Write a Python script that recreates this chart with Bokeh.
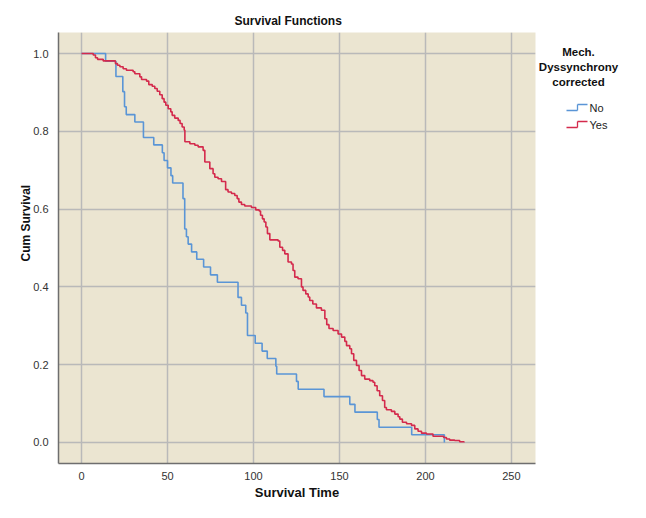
from bokeh.plotting import figure
from bokeh.layouts import row
from bokeh.models import Range1d, FixedTicker, Label, Arrow, Title
from bokeh.embed import file_html
from bokeh.resources import INLINE

# ---------------- data ----------------
no_time = [0, 14, 20, 24, 25, 26, 31, 36, 42, 47, 48, 50, 52, 53, 59, 60, 61, 62,
           64, 67, 71, 75, 79, 91, 93, 95.5, 96.5, 101, 105, 108, 113, 113.5, 125,
           126, 141, 156, 159, 172, 173, 192, 211]
no_surv = [1.0, 0.980, 0.941, 0.902, 0.863, 0.843, 0.824, 0.784, 0.765, 0.745,
           0.725, 0.706, 0.686, 0.667, 0.627, 0.549, 0.529, 0.510, 0.490, 0.471,
           0.451, 0.431, 0.412, 0.373, 0.353, 0.333, 0.275, 0.255, 0.235, 0.216,
           0.196, 0.176, 0.157, 0.137, 0.118, 0.098, 0.078, 0.059, 0.039, 0.020, 0.0]

yes_time = [0, 6.8, 8.1, 9.3, 12.6, 19.7, 20.9, 22.3, 24.2, 26.1, 30.0, 31.0, 33.9,
            34.9, 37.8, 39.1, 41.1, 42.6, 44.0, 45.5, 46.9, 48.0, 49.0, 50.4, 51.9,
            52.7, 54.2, 56.2, 57.3, 58.5, 59.7, 60.1, 63.0, 65.9, 67.8, 70.7, 71.7,
            74.6, 76.5, 77.5, 79.4, 81.4, 83.8, 85.2, 87.2, 89.1, 90.5, 91.5, 93.0,
            94.9, 98.8, 101.3, 103.3, 104.1, 105.2, 106.2, 107.2, 108.1, 109.5,
            114.3, 115.3, 116.9, 118.2, 120.1, 122.1, 123.0, 124.0, 125.9, 127.9,
            128.8, 130.4, 131.8, 132.7, 134.5, 136.6, 139.5, 141.5, 142.6, 143.9,
            146.3, 149.2, 151.2, 153.1, 154.1, 156.0, 157.0, 158.3, 159.9, 161.4,
            162.8, 164.7, 167.6, 169.5, 170.5, 171.9, 173.4, 175.0, 176.3, 177.3,
            180.2, 182.2, 184.1, 185.1, 186.6, 189.0, 191.9, 193.8, 195.7, 197.7,
            200.6, 204.4, 210.6, 212.2, 214.1, 217.0, 219.9, 222.4]
yes_surv = [1.0, 0.996, 0.989, 0.985, 0.981, 0.974, 0.970, 0.966, 0.961, 0.957,
            0.953, 0.948, 0.940, 0.933, 0.929, 0.920, 0.916, 0.910, 0.903, 0.894,
            0.884, 0.875, 0.867, 0.858, 0.850, 0.841, 0.834, 0.828, 0.820, 0.811,
            0.803, 0.773, 0.768, 0.764, 0.760, 0.751, 0.721, 0.704, 0.691, 0.682,
            0.678, 0.671, 0.650, 0.644, 0.640, 0.635, 0.627, 0.618, 0.612, 0.608,
            0.604, 0.598, 0.595, 0.584, 0.575, 0.567, 0.554, 0.537, 0.521, 0.518,
            0.502, 0.494, 0.485, 0.464, 0.459, 0.442, 0.425, 0.421, 0.400, 0.391,
            0.382, 0.374, 0.365, 0.356, 0.346, 0.340, 0.318, 0.303, 0.293, 0.288,
            0.279, 0.271, 0.260, 0.249, 0.241, 0.228, 0.211, 0.198, 0.185, 0.172,
            0.163, 0.159, 0.155, 0.146, 0.133, 0.120, 0.108, 0.090, 0.084, 0.080,
            0.073, 0.066, 0.060, 0.052, 0.048, 0.044, 0.035, 0.029, 0.024, 0.022,
            0.016, 0.013, 0.009, 0.006, 0.005, 0.002, 0.0]

x_ticks = [0, 50, 100, 150, 200, 250]
y_ticks = [0.0, 0.2, 0.4, 0.6, 0.8, 1.0]
y_tick_labels = ["0.0", "0.2", "0.4", "0.6", "0.8", "1.0"]

groups = ["No", "Yes"]
title_text = "Survival Functions"
legend_title = ["Mech.", "Dyssynchrony", "corrected"]
x_label = "Survival Time"
y_label = "Cum Survival"

# ---------------- styles ----------------
FONT = "Liberation Sans"
BG = "#EBE5D1"
GRID = "#B9B9B9"
BLUE = "#5A95D6"
RED = "#D42A4C"
COLORS = [BLUE, RED]

H = 502
W_MAIN, W_LEG = 536, 94
BL, BR, BT, BB = 58, 1, 32, 38

p = figure(width=W_MAIN, height=H, output_backend="svg", toolbar_location=None,
           x_range=Range1d(-13.4, 264), y_range=Range1d(-0.054, 1.054),
           min_border_left=BL, min_border_right=BR, min_border_top=BT,
           min_border_bottom=BB)
p.outline_line_color = None
p.background_fill_color = BG
p.border_fill_color = "white"

p.title = Title(text=title_text, align="left", offset=176, text_font=FONT,
                text_font_size="12px", text_font_style="bold",
                text_color="#111111", standoff=9)

for ax in (p.xaxis[0], p.yaxis[0]):
    ax.axis_line_color = "#6E6E6E"
    ax.axis_line_width = 1.5
    ax.major_tick_line_color = None
    ax.minor_tick_line_color = None
    ax.major_tick_out = 0
    ax.major_tick_in = 0
    ax.minor_tick_out = 0
    ax.major_label_text_font = FONT
    ax.major_label_text_font_size = "11px"
    ax.major_label_text_color = "#333333"
    ax.axis_label_text_font = FONT
    ax.axis_label_text_font_style = "bold"
    ax.axis_label_text_color = "#111111"

p.xaxis.ticker = FixedTicker(ticks=x_ticks)
p.yaxis.ticker = FixedTicker(ticks=y_ticks)
p.yaxis.major_label_overrides = {t: s for t, s in zip(y_ticks, y_tick_labels)}
p.xaxis.major_label_standoff = 8
p.yaxis.major_label_standoff = 10
p.xaxis.axis_label = x_label
p.xaxis.axis_label_text_font_size = "13px"
p.xaxis.axis_label_standoff = 2

# y-axis title as a side title so that it can sit where the reference puts it
p.add_layout(Title(text=y_label, align="left", offset=202, text_font=FONT,
                   text_font_size="12px", text_font_style="bold",
                   text_color="#111111", standoff=-4), "left")

p.xgrid.grid_line_color = GRID
p.ygrid.grid_line_color = GRID
p.xgrid.grid_line_width = 1.5
p.ygrid.grid_line_width = 1.5

p.step(no_time, no_surv, mode="after", line_color=BLUE, line_width=1.6)
p.step(yes_time, yes_surv, mode="after", line_color=RED, line_width=1.6)

# ---------------- legend panel (separate figure to the right) ----------------
lg = figure(width=W_LEG, height=H, output_backend="svg", toolbar_location=None,
            x_axis_type=None, y_axis_type=None, min_border_left=0,
            min_border_right=0, min_border_top=BT, min_border_bottom=BB,
            x_range=Range1d(0, 1), y_range=Range1d(0, 1))
lg.outline_line_color = None
lg.grid.visible = False
lg.background_fill_color = "white"
lg.border_fill_color = "white"


def lx(img_x):
    return img_x - W_MAIN


def ly(img_y):
    return (H - BB) - img_y


cx = 578
for i, line in enumerate(legend_title):
    lg.add_layout(Label(x=lx(cx), y=ly(52 + 15 * i), x_units="screen",
                        y_units="screen", text=line, text_align="center",
                        text_baseline="middle", text_font=FONT,
                        text_font_size="11.5px", text_font_style="bold",
                        text_color="#111111"))

for i, (g, col) in enumerate(zip(groups, COLORS)):
    yc = 108 + 17 * i
    lo, hi = yc + 3, yc - 3
    segs = [(566, lo, 577, lo), (577, lo, 577, hi), (577, hi, 587, hi)]
    for x0, y0, x1, y1 in segs:
        lg.add_layout(Arrow(x_start=lx(x0), y_start=ly(y0), x_end=lx(x1),
                            y_end=ly(y1), start_units="screen",
                            end_units="screen", start=None, end=None,
                            line_color=col, line_width=1.3))
    lg.add_layout(Label(x=lx(589), y=ly(yc), x_units="screen", y_units="screen",
                        text=g, text_align="left", text_baseline="middle",
                        text_font=FONT, text_font_size="11px",
                        text_color="#222222"))

layout = row(p, lg, spacing=0)
open("out.html", "w").write(file_html(layout, INLINE))
